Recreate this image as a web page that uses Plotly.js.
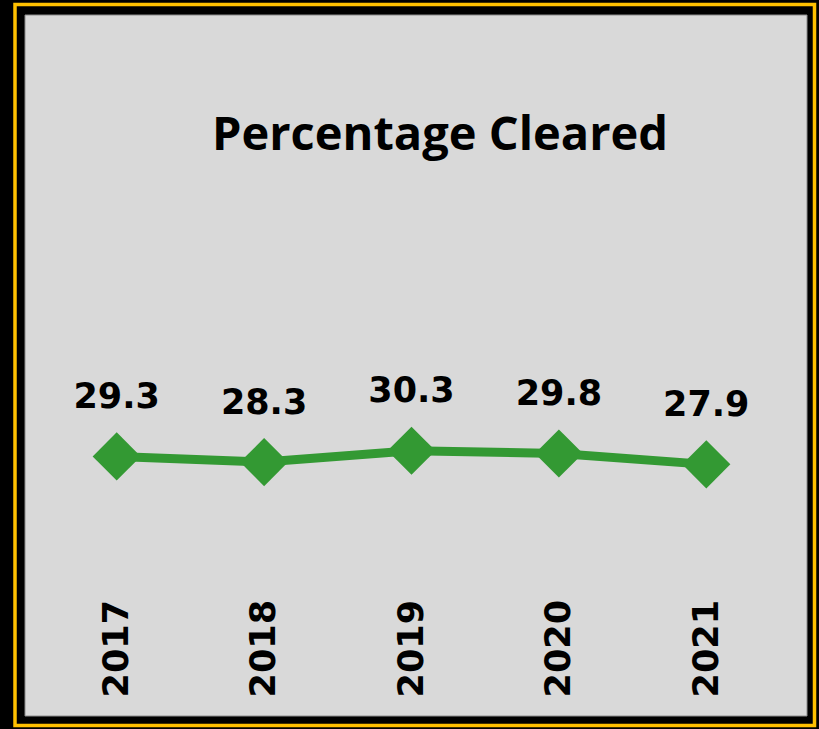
<!DOCTYPE html>
<html>
<head>
<meta charset="utf-8">
<script src="https://cdn.plot.ly/plotly-3.0.1.min.js"></script>
<style>html,body{margin:0;padding:0;background:#000;}#chart{width:819px;height:729px;}</style>
</head>
<body>
<div id="chart"></div>
<script>
var years = ['2017', '2018', '2019', '2020', '2021'];
var cleared = [29.3, 28.3, 30.3, 29.8, 27.9];
var labels = ['29.3', '28.3', '30.3', '29.8', '27.9'];

var W = 819, H = 729;
var M = {l: 43, r: 39, t: 200, b: 137};
var PW = W - M.l - M.r, PH = H - M.t - M.b;
function px(x) { return (x - M.l) / PW; }
function py(y) { return (H - M.b - y) / PH; }

var lineTrace = {
  x: years,
  y: cleared,
  type: 'scatter',
  mode: 'lines+markers',
  line: {color: '#339933', width: 9},
  marker: {symbol: 'diamond', size: 37, color: '#339933'},
  cliponaxis: false,
  hoverinfo: 'none'
};

var labelTrace = {
  x: years,
  y: cleared,
  type: 'scatter',
  mode: 'markers+text',
  marker: {size: 62, color: 'rgba(0,0,0,0)'},
  text: labels,
  textposition: 'top center',
  textfont: {family: 'DejaVu Sans', size: 35, color: '#000', weight: 'bold'},
  cliponaxis: false,
  hoverinfo: 'none'
};

var layout = {
  width: W, height: H,
  paper_bgcolor: '#000000',
  plot_bgcolor: 'rgba(0,0,0,0)',
  margin: M,
  showlegend: false,
  title: {
    text: '<b>Percentage Cleared</b>',
    font: {family: 'Open Sans', size: 47, color: '#000'},
    xref: 'paper', x: px(440), xanchor: 'center',
    yref: 'container', y: 1 - 134 / H, yanchor: 'middle'
  },
  xaxis: {
    type: 'category',
    range: [-0.5, 4.5],
    showgrid: false, zeroline: false, showline: false,
    ticks: '',
    tickangle: -90,
    tickfont: {family: 'DejaVu Sans', size: 35, color: '#000', weight: 'bold'}
  },
  yaxis: {
    range: [5.51, 74.28],
    visible: false,
    showgrid: false, zeroline: false
  },
  shapes: [
    {type: 'rect', xref: 'paper', yref: 'paper', layer: 'below',
     x0: px(25), x1: px(807), y0: py(15), y1: py(716),
     fillcolor: '#d9d9d9', line: {color: '#8c8c8c', width: 1}},
    {type: 'rect', xref: 'paper', yref: 'paper', layer: 'below',
     x0: px(15), x1: px(814.5), y0: py(4.5), y1: py(725.5),
     fillcolor: 'rgba(0,0,0,0)', line: {color: '#FFC000', width: 3.5}}
  ]
};

Plotly.newPlot('chart', [lineTrace, labelTrace], layout, {staticPlot: true, displayModeBar: false});
</script>
</body>
</html>
